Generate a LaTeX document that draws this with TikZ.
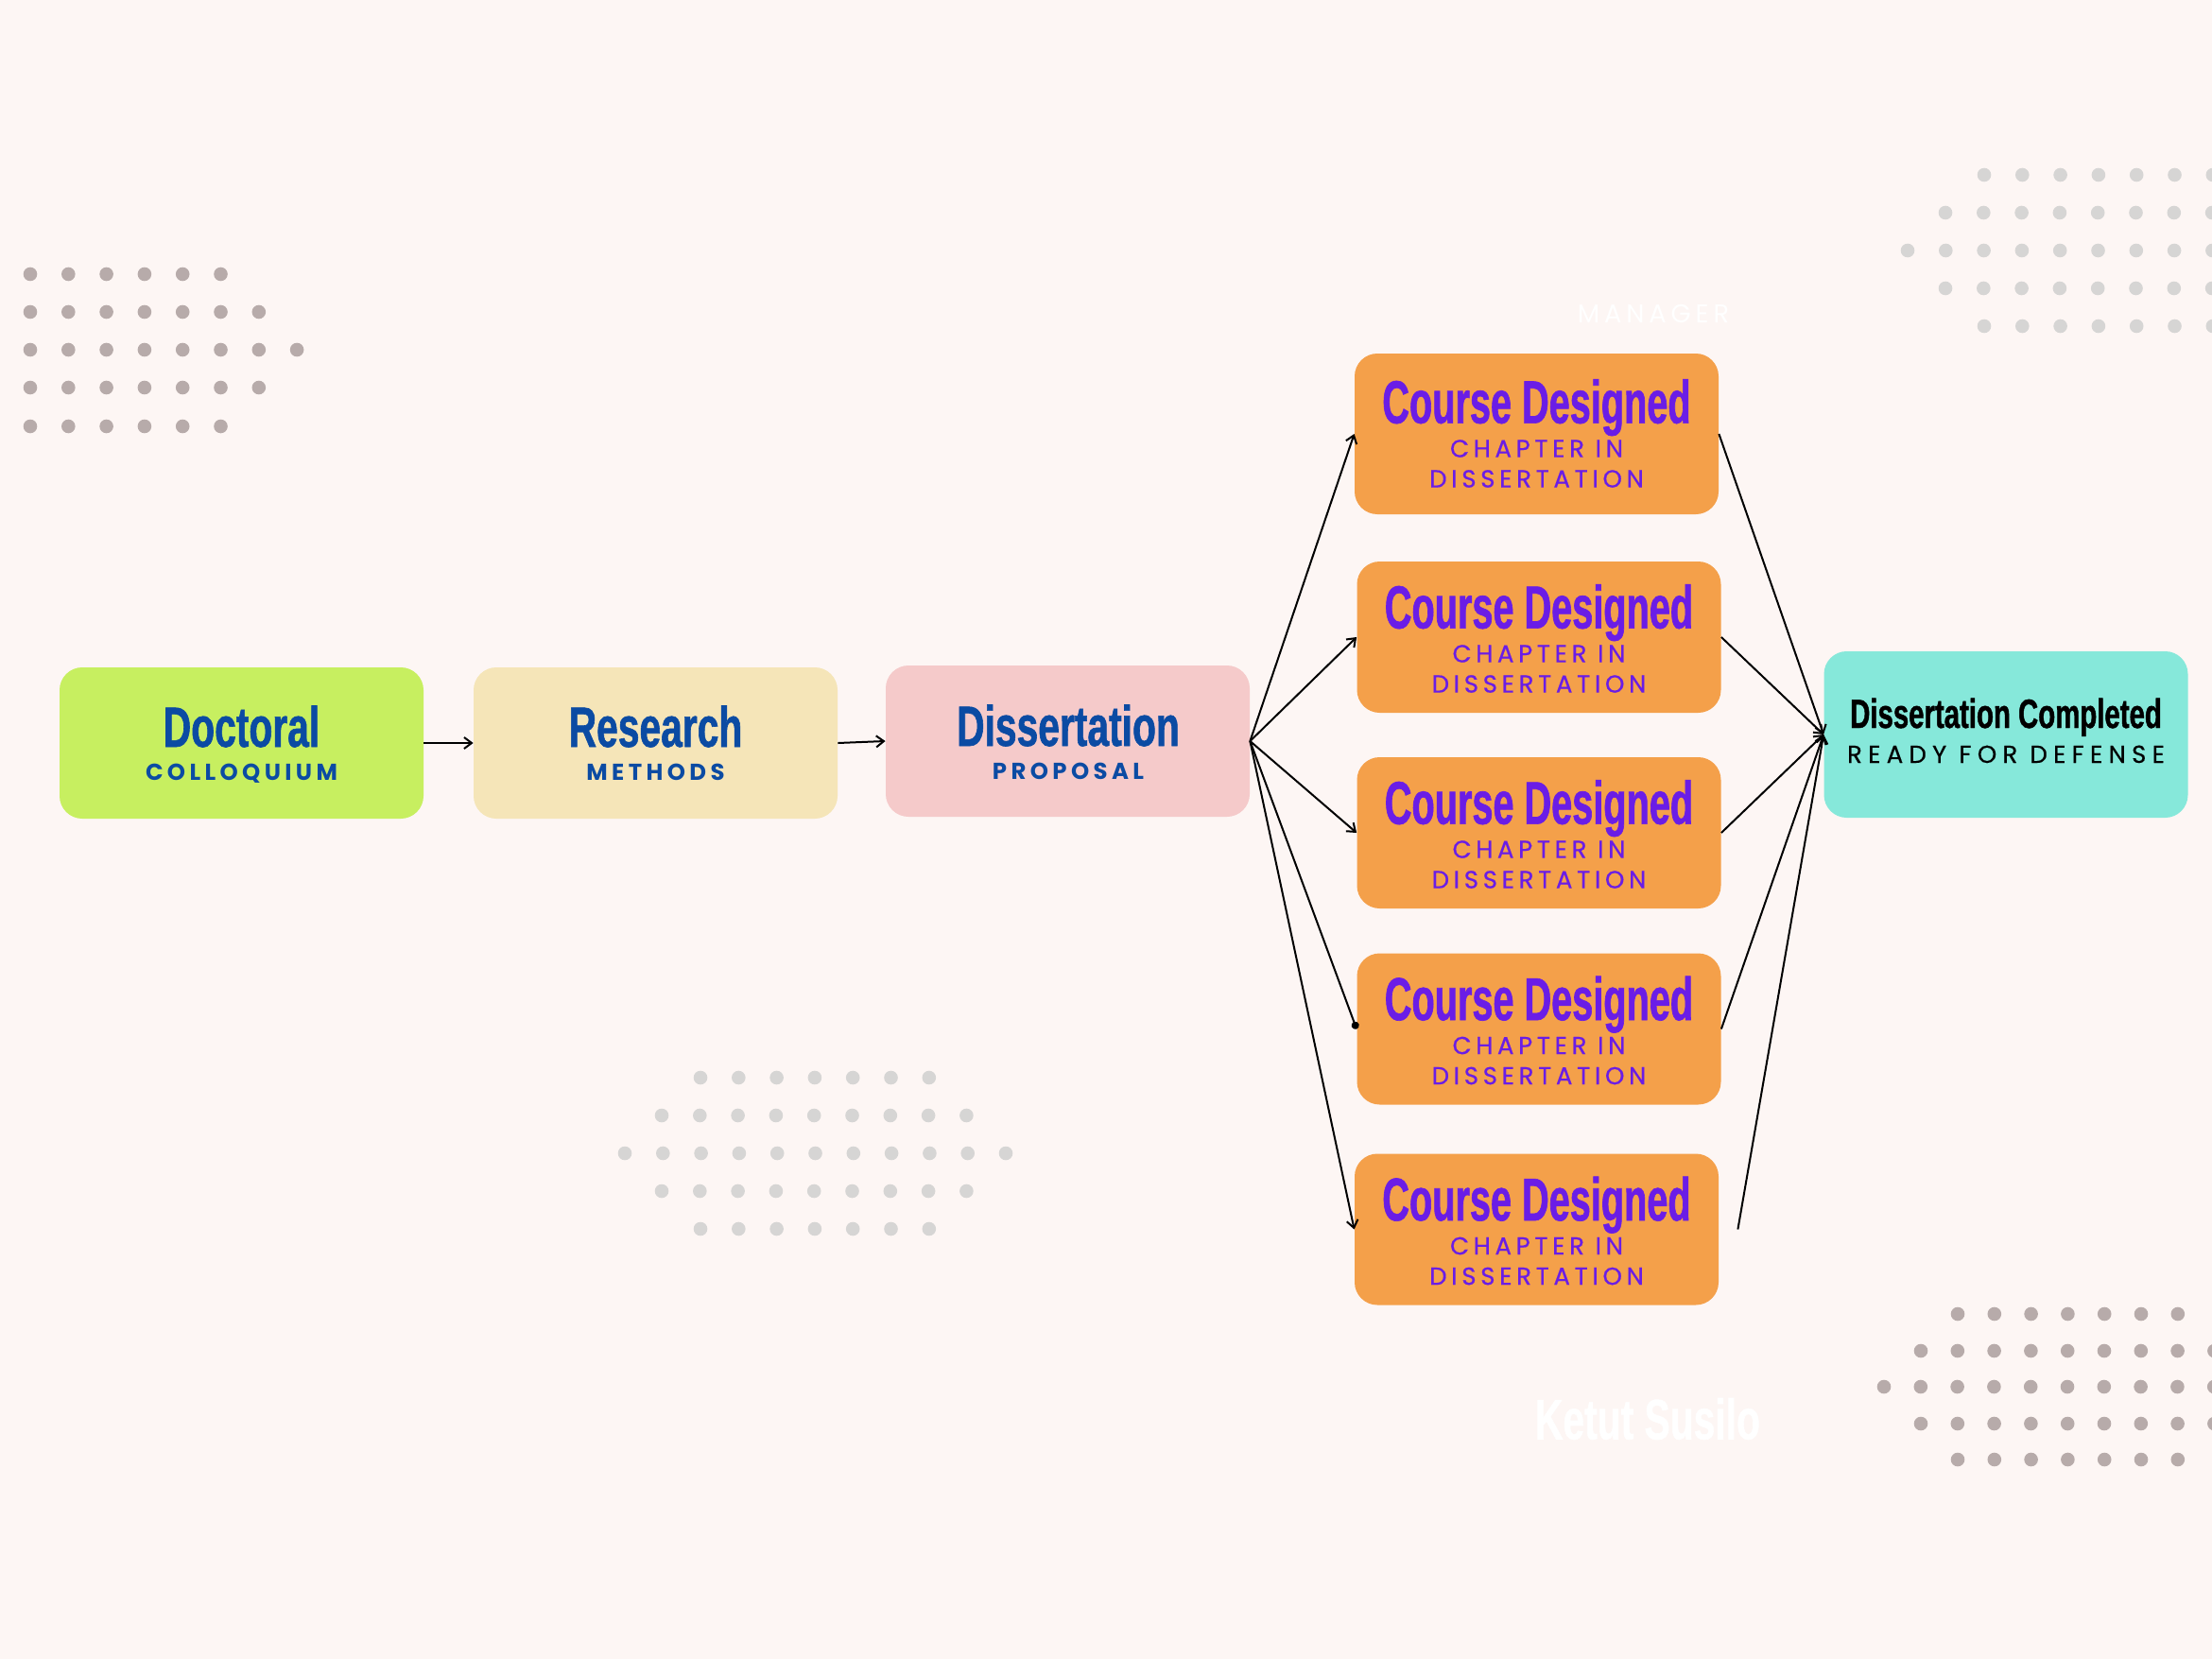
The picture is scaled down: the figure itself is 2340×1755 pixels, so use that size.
\documentclass[tikz,border=0pt]{standalone}
\usepackage{fontspec}
\setmainfont{Liberation Sans}
\newfontfamily\headfont[FakeStretch=0.68,FakeBold=1]{Liberation Sans}
\newfontfamily\courseheadfont[FakeStretch=0.62,FakeBold=1]{Liberation Sans}
\newfontfamily\subfont[LetterSpace=18]{Poppins}
\newfontfamily\csubfont[LetterSpace=18,FakeBold=0.6]{Poppins}
\newfontfamily\dsubfont[LetterSpace=24,FakeBold=0.4]{Poppins}
\usetikzlibrary{calc,arrows.meta}
\definecolor{bgcol}{HTML}{FDF6F4}
\definecolor{dotdark}{HTML}{B7ABAA}
\definecolor{dotlight}{HTML}{D6D5D4}
\definecolor{greenbox}{HTML}{C7EF60}
\definecolor{sandbox}{HTML}{F5E5B8}
\definecolor{pinkbox}{HTML}{F5CACA}
\definecolor{orangebox}{HTML}{F4A04A}
\definecolor{tealbox}{HTML}{86E8DA}
\definecolor{bluetxt}{HTML}{0B4BA3}
\definecolor{purpletxt}{HTML}{6A1DE6}
\tikzset{
  box/.style={rounded corners=12pt, inner sep=0pt, minimum width=192.5pt, minimum height=80pt},
  head/.style={font=\headfont\bfseries\fontsize{30}{30}\selectfont, text=bluetxt, inner sep=0pt, anchor=base},
  sub/.style={font=\subfont\bfseries\fontsize{12.2}{13}\selectfont, text=bluetxt, inner sep=0pt, anchor=base},
  chead/.style={font=\courseheadfont\bfseries\fontsize{32}{32}\selectfont, text=purpletxt, inner sep=0pt, anchor=base},
  csub/.style={font=\csubfont\fontsize{13}{14}\selectfont, text=purpletxt, inner sep=0pt, anchor=base},
  conn/.style={-{Straight Barb[length=4pt,width=6pt]}, line width=1pt, black},
  dotconn/.style={-{Circle[length=4pt]}, line width=1pt, black},
  ddot/.style={fill=dotdark},
  ldot/.style={fill=dotlight}
}
\begin{document}
\begin{tikzpicture}[x=0.5pt, y=-0.5pt]
\useasboundingbox (0,0) rectangle (2340,1755);
\clip (0,0) rectangle (2340,1755);
\fill[bgcol] (0,0) rectangle (2340,1755);

% dot patterns
\foreach \y/\n in {290/5,330/6,370/7,410/6,451/5}
  \foreach \i in {0,...,\n}
    \fill[ddot] ({32+40.3*\i},\y) circle[radius=3.65pt];
\foreach \y/\s in {185/2099,225/2058,265/2018,305/2058,345/2099}
  \foreach \i in {0,...,8}
    \fill[ldot] ({\s+40.3*\i},\y) circle[radius=3.65pt];
\foreach \y/\s/\n in {1140/741/6,1180/700/8,1220/661/10,1260/700/8,1300/741/6}
  \foreach \i in {0,...,\n}
    \fill[ldot] ({\s+40.3*\i},\y) circle[radius=3.65pt];
\foreach \y/\s/\n in {1390/2071/6,1429/2032/8,1467/1993/9,1506/2032/8,1544/2071/6}
  \foreach \i in {0,...,\n}
    \fill[ddot] ({\s+38.8*\i},\y) circle[radius=3.65pt];

% faint white texts
\node[font=\subfont\fontsize{13.6}{14}\selectfont, text=white, inner sep=0pt] (mgr) at (1749,332) {MANAGER};
\node[head, text=white, anchor=center] (author) at (1743,1501) {Ketut Susilo};

% boxes
\node[box, fill=greenbox] (doc) at (255.5,786) {};
\node[box, fill=sandbox] (res) at (693.5,786) {};
\node[box, fill=pinkbox] (prop) at (1129.5,784) {};
\node[box, fill=orangebox, minimum height=85pt] (c1) at (1625.5,459) {};
\node[box, fill=orangebox] (c2) at (1628,674) {};
\node[box, fill=orangebox] (c3) at (1628,881) {};
\node[box, fill=orangebox] (c4) at (1628,1088.5) {};
\node[box, fill=orangebox] (c5) at (1625.5,1300.5) {};
\node[box, fill=tealbox, minimum height=88pt] (done) at (2122,777) {};

% box texts
\node[head] (doch) at (255.5,790) {Doctoral};
\node[sub] (docs) at (255.5,825) {COLLOQUIUM};
\node[head] (resh) at (693.5,790) {Research};
\node[sub] (ress) at (693.5,825) {METHODS};
\node[head] (proph) at (1130,789) {Dissertation};
\node[sub] (props) at (1130,824) {PROPOSAL};

\foreach \c/\dy in {c1/0,c2/-3,c3/-3,c4/-3,c5/-3}{
  \node[chead] (\c h) at ($(\c.north)+(0,74+\dy)$) {Course Designed};
  \node[csub] (\c s1) at ($(\c.north)+(0,111+\dy-1)$) {CHAPTER IN};
  \node[csub] (\c s2) at ($(\c.north)+(0,143+\dy-1)$) {DISSERTATION};
}

\node[head, text=black, font=\headfont\bfseries\fontsize{21.6}{22}\selectfont] (doneh) at (2122,770) {Dissertation Completed};
\node[anchor=base, inner sep=0pt, text=black, font=\dsubfont\fontsize{13}{14}\selectfont] (dones) at (2122,807) {READY FOR DEFENSE};

% connectors
\draw[conn] (doc.east) -- (res.west);
\draw[conn] (res.east) -- (prop.west);
\draw[conn] (prop.east) -- (c1.west);
\draw[conn] (prop.east) -- (c2.west);
\draw[conn] (prop.east) -- (c3.west);
\draw[dotconn] (prop.east) -- (c4.west);
\draw[conn] (prop.east) -- (c5.west);
\draw[conn] (c1.east) -- (done.west);
\draw[conn] (c2.east) -- (done.west);
\draw[conn] (c3.east) -- (done.west);
\draw[conn] (c4.east) -- (done.west);
\draw[conn] ([xshift=10pt]c5.east) -- (done.west);
\end{tikzpicture}
\end{document}
